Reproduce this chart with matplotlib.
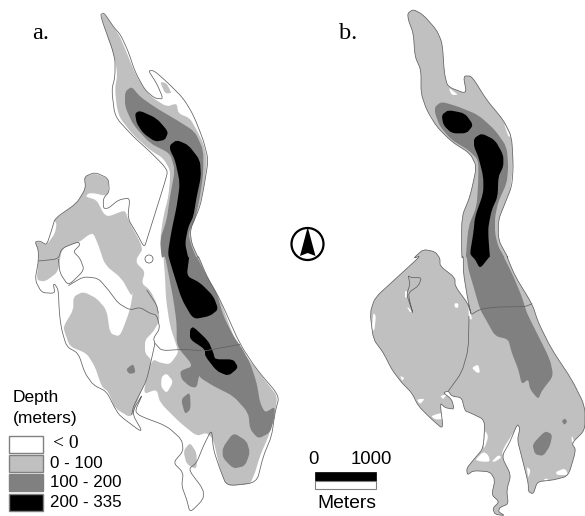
import numpy as np
import matplotlib
matplotlib.use("Agg")
from matplotlib import pyplot as plt
from matplotlib.patches import Circle, PathPatch, Rectangle
from matplotlib.path import Path

# outlines, in 3x crop units (see the crop origins below)
# Z1 = crop at (0,0), Z2 = (0,256), ZA = (25,165), ZB = (50,290)
# Z3 = (295,0), Z4 = (295,256), ZD = (440,400)
Z1, Z2, ZA, ZB = (0, 0), (0, 256), (25, 165), (50, 290)
Z3, Z4, ZD = (295, 0), (295, 256), (440, 400)

a_shore_1 = [(300,45),(312,38),(340,80),(362,105),(385,155),(405,215),(435,270),(465,295),(490,297),(470,250),(445,212),(462,212),(500,245),(550,295),(580,345),(610,420),(625,480),(612,560),(600,620),(570,690),(575,730),(595,775)]
a_shore_2 = [(595,0),(620,60),(660,130),(720,265),(770,340),(838,420),(825,470),(815,540),(790,600),(770,680),(680,690),(660,640),(640,580),(635,520),(610,570),(590,620),(565,640),(610,700),(610,730),(570,770),(560,730),(545,690),(550,650),(520,620),(550,585),(545,550),(500,510),(420,480),(405,465),(430,410),(395,470),(430,532),(360,480)]
a_shore_b = [(195,355),(170,305),(130,285),(105,250),(85,190),(50,170),(35,120),(28,70),(25,0)]
a_shore_2b = [(165,85),(160,85),(165,112),(125,110)]
a_shore_a = [(30,345),(40,290),(40,255),(30,230),(45,228),(65,240),(80,195),(90,160),(155,115),(182,70),(178,35),(210,22),(250,40),(253,80),(235,100),(235,130),(250,130),(280,105),(315,98),(308,160),(335,205),(358,248),(370,210),(395,130),(420,50),(428,20)]
a_shore_1b = [(490,495),(450,455),(400,410),(345,350),(335,270),(345,230),(345,170)]

a_lines_a = [
    [(40,288),(100,282),(110,250),(160,230),(165,240),(145,260),(165,280),(178,315),(130,362),(105,325),(100,282)],
    [(130,362),(175,335),(220,340),(250,375)],
]
a_lines_b = [
    [(175,0),(205,40),(240,60),(270,52),(300,70),(320,75),(330,115),(310,145),(315,160),(305,205),(290,270),(270,310),(250,350),(245,375)],
    [(290,0),(320,45),(325,70)],
    [(315,160),(335,182),(400,178),(455,182)],
]
a_dam_2 = [(610,285),(640,280),(720,265)]

a_east_light_1 = [(302,48),(312,40),(340,80),(360,110),(385,170),(405,220),(435,270),(460,295),(500,320),(530,310),(535,340),(570,355),(590,390),(610,430),(622,480),(612,560),(598,620),(570,690),(575,730),(595,775)]
a_east_light_2 = [(595,0),(620,60),(660,130),(700,240),(730,290),(770,340),(800,380),(832,420),(825,470),(810,530),(780,600),(765,650),(750,685),(680,690),(660,640),(640,550),(620,530),(590,540),(540,500),(480,440),(470,400),(430,415),(445,340),(460,310),(480,320),(510,325),(535,290),(530,270),(510,210),(498,130),(495,60),(490,0)]
a_east_light_1b = [(495,775),(480,720),(490,650),(505,590),(510,540),(510,510),(490,475),(450,450),(400,405),(360,355),(350,320),(345,265),(352,225),(345,175)]

a_west_light_a = [(178,35),(210,25),(250,42),(250,85),(238,92),(210,85),(190,85),(182,95),(215,105),(235,145),(250,155),(300,135),(310,165),(355,250),(335,280),(335,295),(360,320),(350,355),(375,375)]
a_west_light_b = [(320,40),(330,90),(310,125),(285,150),(285,190),(305,210),(290,270),(270,310),(245,385),(195,355),(175,305),(155,290),(135,230),(110,190),(60,170),(45,130),(40,110),(70,60),(70,20),(100,5),(140,25),(170,60),(180,130),(210,140),(240,60),(250,0)]
a_west_light_a2 = [(320,395),(290,340),(240,300),(220,240),(205,205),(190,210),(165,230),(110,250),(100,320),(60,350),(35,345),(40,290),(40,255),(30,232),(45,230),(65,240),(90,205),(95,175),(85,165),(155,115),(182,70)]

a_south_light = [(550,585),(570,560),(590,590),(590,640),(560,625)]
a_hole_b = [(350,250),(370,275),(350,310),(333,290),(335,260)]
a_arm_light = [(480,245),(500,250),(515,280),(495,280)]

a_mid_1 = [(375,275),(395,260),(420,290),(470,325),(530,360),(585,395),(610,450),(610,520),(600,590),(585,660),(565,700),(575,740),(590,775)]
a_mid_2 = [(590,0),(620,60),(650,110),(670,180),(700,240),(725,275),(750,320),(770,380),(780,440),(795,470),(825,452),(822,490),(810,530),(775,548),(750,520),(745,470),(700,420),(640,390),(600,365),(590,345),(600,345),(590,395),(570,392),(545,370),(540,345),(580,330),(530,270),(530,200),(520,130),(505,50),(495,0)]
a_mid_1b = [(485,775),(480,720),(500,660),(510,590),(525,510),(510,460),(450,430),(400,375),(375,320)]
a_mid_blobs = [
    [(668,575),(700,530),(740,555),(750,590),(735,630),(700,638),(668,605)],
    [(543,430),(570,408),(572,460),(555,475)],
    [(378,340),(400,323),(407,350),(388,354)],
]

a_deep_north = [(405,340),(420,332),(470,355),(505,395),(495,420),(465,425),(430,400),(410,370)]
a_deep_main_1 = [(510,435),(530,420),(565,435),(600,480),(603,530),(590,590),(580,650),(565,680),(555,730),(565,775)]
a_deep_main_2 = [(568,0),(560,60),(600,80),(640,120),(655,160),(630,180),(580,190),(545,130),(520,50),(505,0)]
a_deep_main_1b = [(505,750),(515,690),(530,620),(540,550),(525,480),(510,450)]
a_deep_south = [(570,220),(580,212),(625,255),(640,290),(645,310),(700,310),(715,335),(685,360),(650,345),(615,300),(615,280),(570,250)]

b_shore_3 = [(338,40),(355,28),(385,45),(425,90),(442,130),(448,220),(458,260),(515,282),(505,228),(530,228),(575,300),(625,360),(650,410),(655,500),(650,560),(630,610),(610,660),(610,720),(640,775)]
b_shore_4 = [(635,0),(660,60),(712,145),(730,200),(770,280),(830,370),(870,450)]
b_shore_d = [(435,90),(395,130),(408,150),(385,228),(340,240),(292,245),(280,282),(265,275),(265,250),(245,170),(232,120),(240,85),(232,72),(210,125),(185,170),(213,225),(200,270),(205,312),(180,322),(175,335),(195,347),(165,343),(158,325),(178,305),(155,285),(165,240),(150,215),(100,212),(82,225),(80,205),(100,180),(130,145),(135,60)]
b_shore_4b = [(525,470),(510,465),(500,425),(470,420),(460,405),(445,410),(470,430),(478,460),(450,455),(435,440),(445,520),(410,490),(370,450),(350,410),(320,380),(290,340),(265,290),(235,250),(225,170),(240,125),(300,70),(360,15),(375,0)]
b_shore_3b = [(355,775),(385,748),(420,755),(435,775)]
b_shore_4c = [(435,30),(480,65),(480,90),(520,145),(530,180),(520,140),(505,50),(505,0)]
b_shore_3c = [(500,775),(500,650),(525,590),(545,500),(525,460),(470,425),(425,380),(395,330),(378,280),(378,210),(360,170),(355,100),(340,60)]

b_lines = [
    [(522,180),(520,280),(500,350),(460,405)],
    [(530,175),(555,160),(600,153),(690,152),(712,143)],
    [(340,60),(350,65),(380,65),(370,90),(340,110),(345,140),(355,175),(345,145),(335,115),(345,85),(340,60)],
]
b_white_4 = [
    [(520,150),(532,190),(522,190)],
    [(235,170),(243,180),(238,225),(230,220)],
    [(255,95),(275,80),(270,95),(258,100)],
    [(330,105),(338,105),(335,125),(330,125)],
    [(335,150),(350,165),(345,170)],
    [(315,360),(328,365),(322,375)],
    [(365,430),(390,428),(375,445)],
    [(478,142),(490,142),(490,155),(480,155)],
    [(530,335),(550,325),(555,350),(545,350)],
    [(408,480),(440,470),(445,490),(420,490)],
    [(435,420),(455,415),(445,430)],
    [(850,390),(865,430),(855,420)],
]
b_white_3 = [
    [(380,290),(395,330),(420,365),(400,340)],
    [(460,262),(490,285),(470,285)],
    [(625,365),(648,410),(640,410)],
    [(650,470),(655,540),(645,570),(652,520)],
]
b_white_d = [
    [(135,90),(145,110),(135,140),(130,145)],
    [(105,180),(130,155),(145,165),(150,185),(125,185)],
    [(155,185),(175,165),(185,172),(165,185)],
    [(190,145),(225,90),(210,130),(185,168)],
    [(260,200),(272,210),(265,235)],
    [(310,238),(325,235),(320,245)],
    [(348,215),(375,205),(385,225),(350,225)],
    [(395,105),(405,130),(395,125)],
]

b_mid_3 = [(420,320),(440,305),(490,320),(550,345),(600,390),(635,440),(640,500),(635,550),(610,605),(600,650),(600,700),(610,740),(630,775)]
b_mid_4 = [(625,0),(650,50),(680,120),(695,170),(720,220),(765,310),(775,360),(740,405),(730,430),(705,400),(700,370),(680,385),(670,340),(650,290),(640,250),(600,240),(575,195),(555,160),(535,90),(520,40),(515,0)]
b_mid_3b = [(512,775),(520,680),(545,620),(550,540),(550,480),(520,450),(470,420),(435,380),(420,340)]
b_mid_blobs = [
    [(712,565),(750,525),(772,535),(765,570),(745,600),(720,595)],
    [(800,495),(810,487),(817,497),(808,507)],
]
b_deep_north = [(440,345),(460,330),(510,340),(535,375),(515,400),(470,400),(445,375)]
b_deep_main_3 = [(537,415),(560,400),(600,420),(625,465),(625,500),(610,530),(608,590),(590,630),(580,680),(580,710),(585,775)]
b_deep_main_4 = [(585,0),(555,38),(540,10),(530,0)]
b_deep_main_3b = [(525,760),(535,700),(540,650),(565,580),(565,530),(550,470),(537,440)]

legend_labels = ["< 0", "0 - 100", "100 - 200", "200 - 335"]
legend_colors = ["white", "#c0c0c0", "#808080", "black"]

LIGHT, MID, DEEP = legend_colors[1:]
LINE = "#606060"


def crop(points, origin):
    # 3x crop units -> image pixels
    return np.array(points, dtype=float) / 3 + origin


def curved(arr, closed=True):
    # rounds each corner of a traced shape a little, keeps the edges straight
    n = len(arr)
    verts, codes = [], []
    if not closed:
        verts.append(arr[0])
        codes.append(Path.MOVETO)
    rng = range(n) if closed else range(1, n - 1)
    for i in rng:
        p = arr[i]
        a = p + (arr[(i - 1) % n] - p) * 0.3
        b = p + (arr[(i + 1) % n] - p) * 0.3
        verts += [a, p, b]
        codes += [Path.MOVETO if (closed and i == 0) else Path.LINETO, Path.CURVE3, Path.CURVE3]
    if closed:
        verts.append(verts[0])
        codes.append(Path.LINETO)
    else:
        verts.append(arr[-1])
        codes.append(Path.LINETO)
    return Path(verts, codes)


def blob(ax, arr, color, z):
    ax.add_patch(PathPatch(curved(arr), fc=color, ec="none", lw=0, zorder=z))


def shoreline(ax, arr, closed=True):
    ax.add_patch(PathPatch(curved(arr, closed), fc="none", ec=LINE, lw=0.55, zorder=6))


fig = plt.figure(figsize=(5.85, 5.16), dpi=100)
ax = fig.add_axes([0, 0, 1, 1])
ax.set_xlim(0, 585)
ax.set_ylim(516, 0)
ax.axis("off")

# panel a
blob(ax, np.vstack([crop(a_east_light_1, Z1), crop(a_east_light_2, Z2), crop(a_east_light_1b, Z1)]), LIGHT, 2)
blob(ax, np.vstack([crop(a_west_light_a, ZA), crop(a_west_light_b, ZB), crop(a_west_light_a2, ZA)]), LIGHT, 2)
blob(ax, crop(a_south_light, Z2), LIGHT, 2)
blob(ax, crop(a_arm_light, Z1), LIGHT, 2)
blob(ax, crop(a_hole_b, ZB), "white", 3)
blob(ax, np.vstack([crop(a_mid_1, Z1), crop(a_mid_2, Z2), crop(a_mid_1b, Z1)]), MID, 4)
for m in a_mid_blobs:
    blob(ax, crop(m, Z2), MID, 4)
blob(ax, crop(a_deep_north, Z1), DEEP, 5)
blob(ax, np.vstack([crop(a_deep_main_1, Z1), crop(a_deep_main_2, Z2), crop(a_deep_main_1b, Z1)]), DEEP, 5)
blob(ax, crop(a_deep_south, Z2), DEEP, 5)

shore = np.vstack([crop(a_shore_1, Z1), crop(a_shore_2, Z2), crop(a_shore_b, ZB), crop(a_shore_2b, Z2),
                   crop(a_shore_a, ZA), crop(a_shore_1b, Z1)])
shoreline(ax, shore)
for l in a_lines_a:
    shoreline(ax, crop(l, ZA), closed=False)
for l in a_lines_b:
    shoreline(ax, crop(l, ZB), closed=False)
shoreline(ax, crop(a_dam_2, Z2), closed=False)
ax.add_patch(Circle((149, 259), 4, fc="white", ec=LINE, lw=0.55, zorder=6))

# panel b
shore = np.vstack([crop(b_shore_3, Z3), crop(b_shore_4, Z4), crop(b_shore_d, ZD), crop(b_shore_4b, Z4),
                   crop(b_shore_3b, Z3), crop(b_shore_4c, Z4), crop(b_shore_3c, Z3)])
blob(ax, shore, LIGHT, 2)
for w in b_white_4:
    blob(ax, crop(w, Z4), "white", 3)
for w in b_white_3:
    blob(ax, crop(w, Z3), "white", 3)
for w in b_white_d:
    blob(ax, crop(w, ZD), "white", 3)
blob(ax, np.vstack([crop(b_mid_3, Z3), crop(b_mid_4, Z4), crop(b_mid_3b, Z3)]), MID, 4)
for m in b_mid_blobs:
    blob(ax, crop(m, Z4), MID, 4)
blob(ax, crop(b_deep_north, Z3), DEEP, 5)
blob(ax, np.vstack([crop(b_deep_main_3, Z3), crop(b_deep_main_4, Z4), crop(b_deep_main_3b, Z3)]), DEEP, 5)
shoreline(ax, shore)
for l in b_lines:
    shoreline(ax, crop(l, Z4), closed=False)

# panel letters
ax.text(32, 39, "a.", family="Liberation Serif", fontsize=17.5, color="black")
ax.text(339, 39, "b.", family="Liberation Serif", fontsize=17.5, color="black")

# north arrow
ax.add_patch(Circle((307.5, 244), 16, fc="white", ec="black", lw=1.6, zorder=7))
ax.fill([307.7, 300, 307.7, 315.5], [227, 256, 253, 256], color="black", lw=0, zorder=8)

# legend
ax.text(13, 402, "Depth", family="Liberation Sans", fontsize=12.5, color="black")
ax.text(13, 423, "(meters)", family="Liberation Sans", fontsize=12.5, color="black")
for i in range(4):
    ax.add_patch(Rectangle((8.5, 435.5 + i * 19.4), 34, 17, fc=legend_colors[i], ec="#808080", lw=1))
    fam = "Liberation Serif" if i == 0 else "Liberation Sans"
    ax.text(53 if i == 0 else 50, 444 + i * 19.4, legend_labels[i], family=fam,
            fontsize=14 if i == 0 else 12.2, va="center", color="black")

# scale bar
ax.add_patch(Rectangle((315, 472), 61, 8.5, fc="black", ec="black", lw=0.5))
ax.add_patch(Rectangle((315, 480.5), 61, 8, fc="white", ec="#808080", lw=0.8))
ax.text(308, 464, "0", family="Liberation Sans", fontsize=13.3)
ax.text(351, 464, "1000", family="Liberation Sans", fontsize=13.3)
ax.text(317, 508, "Meters", family="Liberation Sans", fontsize=13.9)

fig.savefig("out.png", dpi=100)
